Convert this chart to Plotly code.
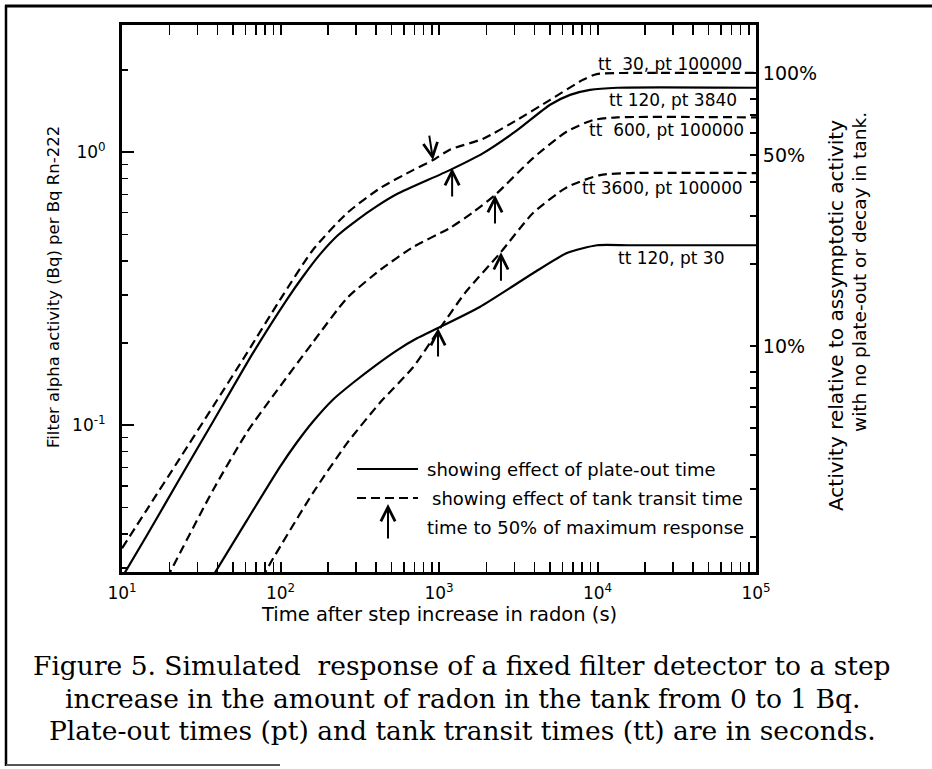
import numpy as np
import plotly.graph_objects as go

# ---------------- data ----------------
# time after step increase (s) and filter alpha activity (Bq per Bq Rn-222)
t_tt30_pt100000 = [10, 14.4, 23.2, 37.5, 61.5, 99, 160, 263, 425, 686, 917, 1170, 1900, 3100, 5000, 8100, 9900, 21000, 100000]
v_tt30_pt100000 = [0.0354, 0.0492, 0.0757, 0.117, 0.184, 0.287, 0.438, 0.598, 0.738, 0.859, 0.935, 1.02, 1.12, 1.31, 1.55, 1.84, 1.93, 1.95, 1.95]

t_tt120_pt3840 = [10, 14.4, 23.2, 37.5, 67.1, 110, 139, 178, 231, 304, 406, 543, 1170, 1900, 3100, 5020, 6710, 8970, 13300, 100000]
v_tt120_pt3840 = [0.0277, 0.0396, 0.0639, 0.103, 0.184, 0.289, 0.351, 0.423, 0.497, 0.564, 0.634, 0.702, 0.859, 0.991, 1.20, 1.49, 1.62, 1.69, 1.72, 1.72]

t_tt600_pt100000 = [19.2, 37.5, 61.5, 89.7, 160, 263, 425, 686, 1170, 1615, 2256, 3920, 6420, 9370, 13300, 100000]
v_tt600_pt100000 = [0.0275, 0.0578, 0.0943, 0.128, 0.201, 0.292, 0.370, 0.449, 0.527, 0.598, 0.696, 0.951, 1.19, 1.31, 1.34, 1.34]

t_tt3600_pt100000 = [76.4, 88.4, 160, 263, 425, 686, 986, 1460, 2430, 3920, 6420, 10400, 16000, 100000]
v_tt3600_pt100000 = [0.0275, 0.0320, 0.0564, 0.0859, 0.121, 0.163, 0.221, 0.305, 0.427, 0.598, 0.744, 0.824, 0.838, 0.838]

t_tt120_pt30 = [37, 61.5, 99, 127, 160, 214, 287, 395, 543, 726, 986, 1810, 3920, 6420, 9930, 16000, 100000]
v_tt120_pt30 = [0.0277, 0.0449, 0.0702, 0.0866, 0.103, 0.124, 0.143, 0.165, 0.188, 0.208, 0.227, 0.271, 0.360, 0.427, 0.456, 0.456, 0.456]

curve_labels = ["tt\u00a0 30, pt 100000", "tt 120, pt 3840", "tt\u00a0 600, pt 100000",
                "tt 3600, pt 100000", "tt 120, pt 30"]
curve_dash = ["dashed", "solid", "dashed", "dashed", "solid"]

# time to 50% of maximum response (arrow tips)
arrow_t = [917, 1210, 2256, 2460, 986]
arrow_v = [0.935, 0.874, 0.696, 0.430, 0.227]
arrow_dir = ["down", "up", "up", "up", "up"]

# axes
x_ticks = [10, 100, 1000, 10000, 100000]
x_ticktext = ["10<sup>1</sup>", "10<sup>2</sup>", "10<sup>3</sup>", "10<sup>4</sup>", "10<sup>5</sup>"]
y_ticks = [0.1, 1]
y_ticktext = ["10<sup>-1</sup>", "10<sup>0</sup>"]
y_range = [0.029, 2.92]
full_activity = 1.95  # left-axis value corresponding to 100 %
pct_major = [1.0, 0.5, 0.1]
pct_major_text = ["100%", "50%", "10%"]
pct_minor = [0.8, 0.7, 0.6, 0.4, 0.3, 0.2, 0.08, 0.07, 0.06, 0.05, 0.04, 0.03, 0.02]

legend_texts = ["showing effect of plate-out time", "showing effect of tank transit time",
                "time to 50% of maximum response"]
x_title = "Time after step increase in radon (s)"
y_title = "Filter alpha activity (Bq) per Bq Rn-222"
y2_title_lines = ["Activity relative to assymptotic activity", "with no plate-out or decay in tank."]
caption_lines = ["Figure 5. Simulated\u00a0 response of a fixed filter detector to a step",
                 "increase in the amount of radon in the tank from 0 to 1 Bq.",
                 "Plate-out times (pt) and tank transit times (tt) are in seconds."]

# ---------------- layout geometry ----------------
W, H = 932, 769
L, R, T, B = 122, 756, 25, 572
def px(x):
    return (x - L) / (R - L)
def py(y):
    return (B - y) / (B - T)

SANS = "DejaVu Sans"
SERIF = "DejaVu Serif"
DASH = "9px,5px"

fig = go.Figure()
series = [(t_tt30_pt100000, v_tt30_pt100000), (t_tt120_pt3840, v_tt120_pt3840),
          (t_tt600_pt100000, v_tt600_pt100000), (t_tt3600_pt100000, v_tt3600_pt100000),
          (t_tt120_pt30, v_tt120_pt30)]
for (tt, vv), name, d in zip(series, curve_labels, curve_dash):
    fig.add_trace(go.Scatter(
        x=tt, y=vv, mode="lines", name=name, showlegend=False,
        line=dict(color="black", width=2.2, dash=(DASH if d == "dashed" else "solid"),
                  shape="spline", smoothing=0.6),
        hoverinfo="skip"))

# invisible trace on the secondary (percent) axis so that it is drawn
fig.add_trace(go.Scatter(x=[x_ticks[0]], y=[pct_major[0]], yaxis="y2", mode="markers",
                         marker=dict(opacity=0), showlegend=False, hoverinfo="skip"))

def minor_decades(lo, hi):
    vals = []
    for e in range(lo, hi):
        for m in range(2, 10):
            vals.append(m * 10 ** e)
    return vals

fig.update_layout(
    width=W, height=H,
    margin=dict(l=L, r=W - R, t=T, b=H - B, pad=0),
    paper_bgcolor="white", plot_bgcolor="white",
    showlegend=False, hovermode=False,
    font=dict(family=SANS, color="black"),
    xaxis=dict(type="log", range=[1, 5], showgrid=False, zeroline=False,
               showline=True, linecolor="black", linewidth=3, mirror="allticks",
               ticks="inside", ticklen=10, tickwidth=2, tickcolor="black",
               tickmode="array", tickvals=x_ticks, ticktext=x_ticktext,
               tickfont=dict(size=17, family=SANS), ticklabelstandoff=4,
               minor=dict(ticks="inside", ticklen=5, tickwidth=1.5, tickcolor="black",
                          tickmode="array", tickvals=minor_decades(1, 5), showgrid=False)),
    yaxis=dict(type="log", range=[np.log10(y_range[0]), np.log10(y_range[1])],
               showgrid=False, zeroline=False,
               showline=True, linecolor="black", linewidth=3, mirror=False,
               ticks="inside", ticklen=12, tickwidth=2, tickcolor="black",
               tickmode="array", tickvals=y_ticks, ticktext=y_ticktext,
               tickfont=dict(size=17, family=SANS), ticklabelstandoff=10,
               minor=dict(ticks="inside", ticklen=6, tickwidth=1.5, tickcolor="black",
                          tickmode="array", tickvals=minor_decades(-2, 1), showgrid=False)),
    yaxis2=dict(type="log", overlaying="y", side="right",
                range=[np.log10(y_range[0] / full_activity), np.log10(y_range[1] / full_activity)],
                showgrid=False, zeroline=False,
                showline=True, linecolor="black", linewidth=3,
                ticks="inside", ticklen=6, tickwidth=2, tickcolor="black",
                tickmode="array", tickvals=pct_major, ticktext=pct_major_text,
                tickfont=dict(size=19, family=SANS), ticklabelstandoff=0,
                minor=dict(ticks="inside", ticklen=6, tickwidth=2, tickcolor="black",
                           tickmode="array", tickvals=pct_minor, showgrid=False)),
)

ann = []
# curve labels
label_pos = [(670, 64), (673, 100), (666, 130), (662, 188), (671, 258)]
for txt, (lx, ly) in zip(curve_labels, label_pos):
    ann.append(dict(x=px(lx), y=py(ly), xref="paper", yref="paper", text=txt,
                    showarrow=False, xanchor="center", yanchor="middle",
                    font=dict(size=17, family=SANS)))
# arrows: time to 50 % of maximum response
for t, v, d in zip(arrow_t, arrow_v, arrow_dir):
    ann.append(dict(x=np.log10(t), y=np.log10(v), xref="x", yref="y", text="",
                    showarrow=True, arrowhead=5, arrowsize=1.4, arrowwidth=2,
                    arrowcolor="black", ax=(-4 if d == "down" else 0),
                    ay=(-26 if d == "down" else 30), standoff=0))
# legend
ann.append(dict(x=px(425), y=py(469), xref="paper", yref="paper", text=legend_texts[0],
                showarrow=False, xanchor="left", yanchor="middle", font=dict(size=18)))
ann.append(dict(x=px(430), y=py(498), xref="paper", yref="paper", text=legend_texts[1],
                showarrow=False, xanchor="left", yanchor="middle", font=dict(size=18)))
ann.append(dict(x=px(425), y=py(527), xref="paper", yref="paper", text=legend_texts[2],
                showarrow=False, xanchor="left", yanchor="middle", font=dict(size=18)))
ann.append(dict(x=px(388), y=py(504), xref="paper", yref="paper", text="",
                showarrow=True, arrowhead=5, arrowsize=1.4, arrowwidth=2,
                arrowcolor="black", ax=0, ay=36, standoff=0))
# axis titles
ann.append(dict(x=px(439), y=py(614), xref="paper", yref="paper", text=x_title,
                showarrow=False, xanchor="center", yanchor="middle", font=dict(size=19.5)))
ann.append(dict(x=px(53), y=py(287), xref="paper", yref="paper", text=y_title,
                showarrow=False, xanchor="center", yanchor="middle", textangle=-90,
                font=dict(size=16.5)))
ann.append(dict(x=px(836), y=py(316), xref="paper", yref="paper", text=y2_title_lines[0],
                showarrow=False, xanchor="center", yanchor="middle", textangle=-90,
                font=dict(size=20)))
ann.append(dict(x=px(859), y=py(272), xref="paper", yref="paper", text=y2_title_lines[1],
                showarrow=False, xanchor="center", yanchor="middle", textangle=-90,
                font=dict(size=18.5)))
# caption
for txt, cy in zip(caption_lines, [665, 698, 730]):
    ann.append(dict(x=px(462), y=py(cy), xref="paper", yref="paper", text=txt,
                    showarrow=False, xanchor="center", yanchor="middle",
                    font=dict(size=26.5, family=SERIF)))
fig.update_layout(annotations=ann)

shapes = []
# legend line samples
shapes.append(dict(type="line", xref="paper", yref="paper", x0=px(357), x1=px(418),
                   y0=py(469), y1=py(469), line=dict(color="black", width=2.2)))
shapes.append(dict(type="line", xref="paper", yref="paper", x0=px(357), x1=px(418),
                   y0=py(498), y1=py(498), line=dict(color="black", width=2.2, dash=DASH)))
# outer figure frame
shapes.append(dict(type="line", xref="paper", yref="paper", x0=px(5), x1=px(932),
                   y0=py(6), y1=py(6), line=dict(color="black", width=3)))
shapes.append(dict(type="line", xref="paper", yref="paper", x0=px(6), x1=px(6),
                   y0=py(5), y1=py(766), line=dict(color="black", width=2.5)))
shapes.append(dict(type="line", xref="paper", yref="paper", x0=px(6), x1=px(280),
                   y0=py(765), y1=py(765), line=dict(color="#555555", width=2)))
fig.update_layout(shapes=shapes)

fig.write_html("out.html", config={"displayModeBar": False, "staticPlot": True},
               post_script="document.body.style.margin='0px';")
